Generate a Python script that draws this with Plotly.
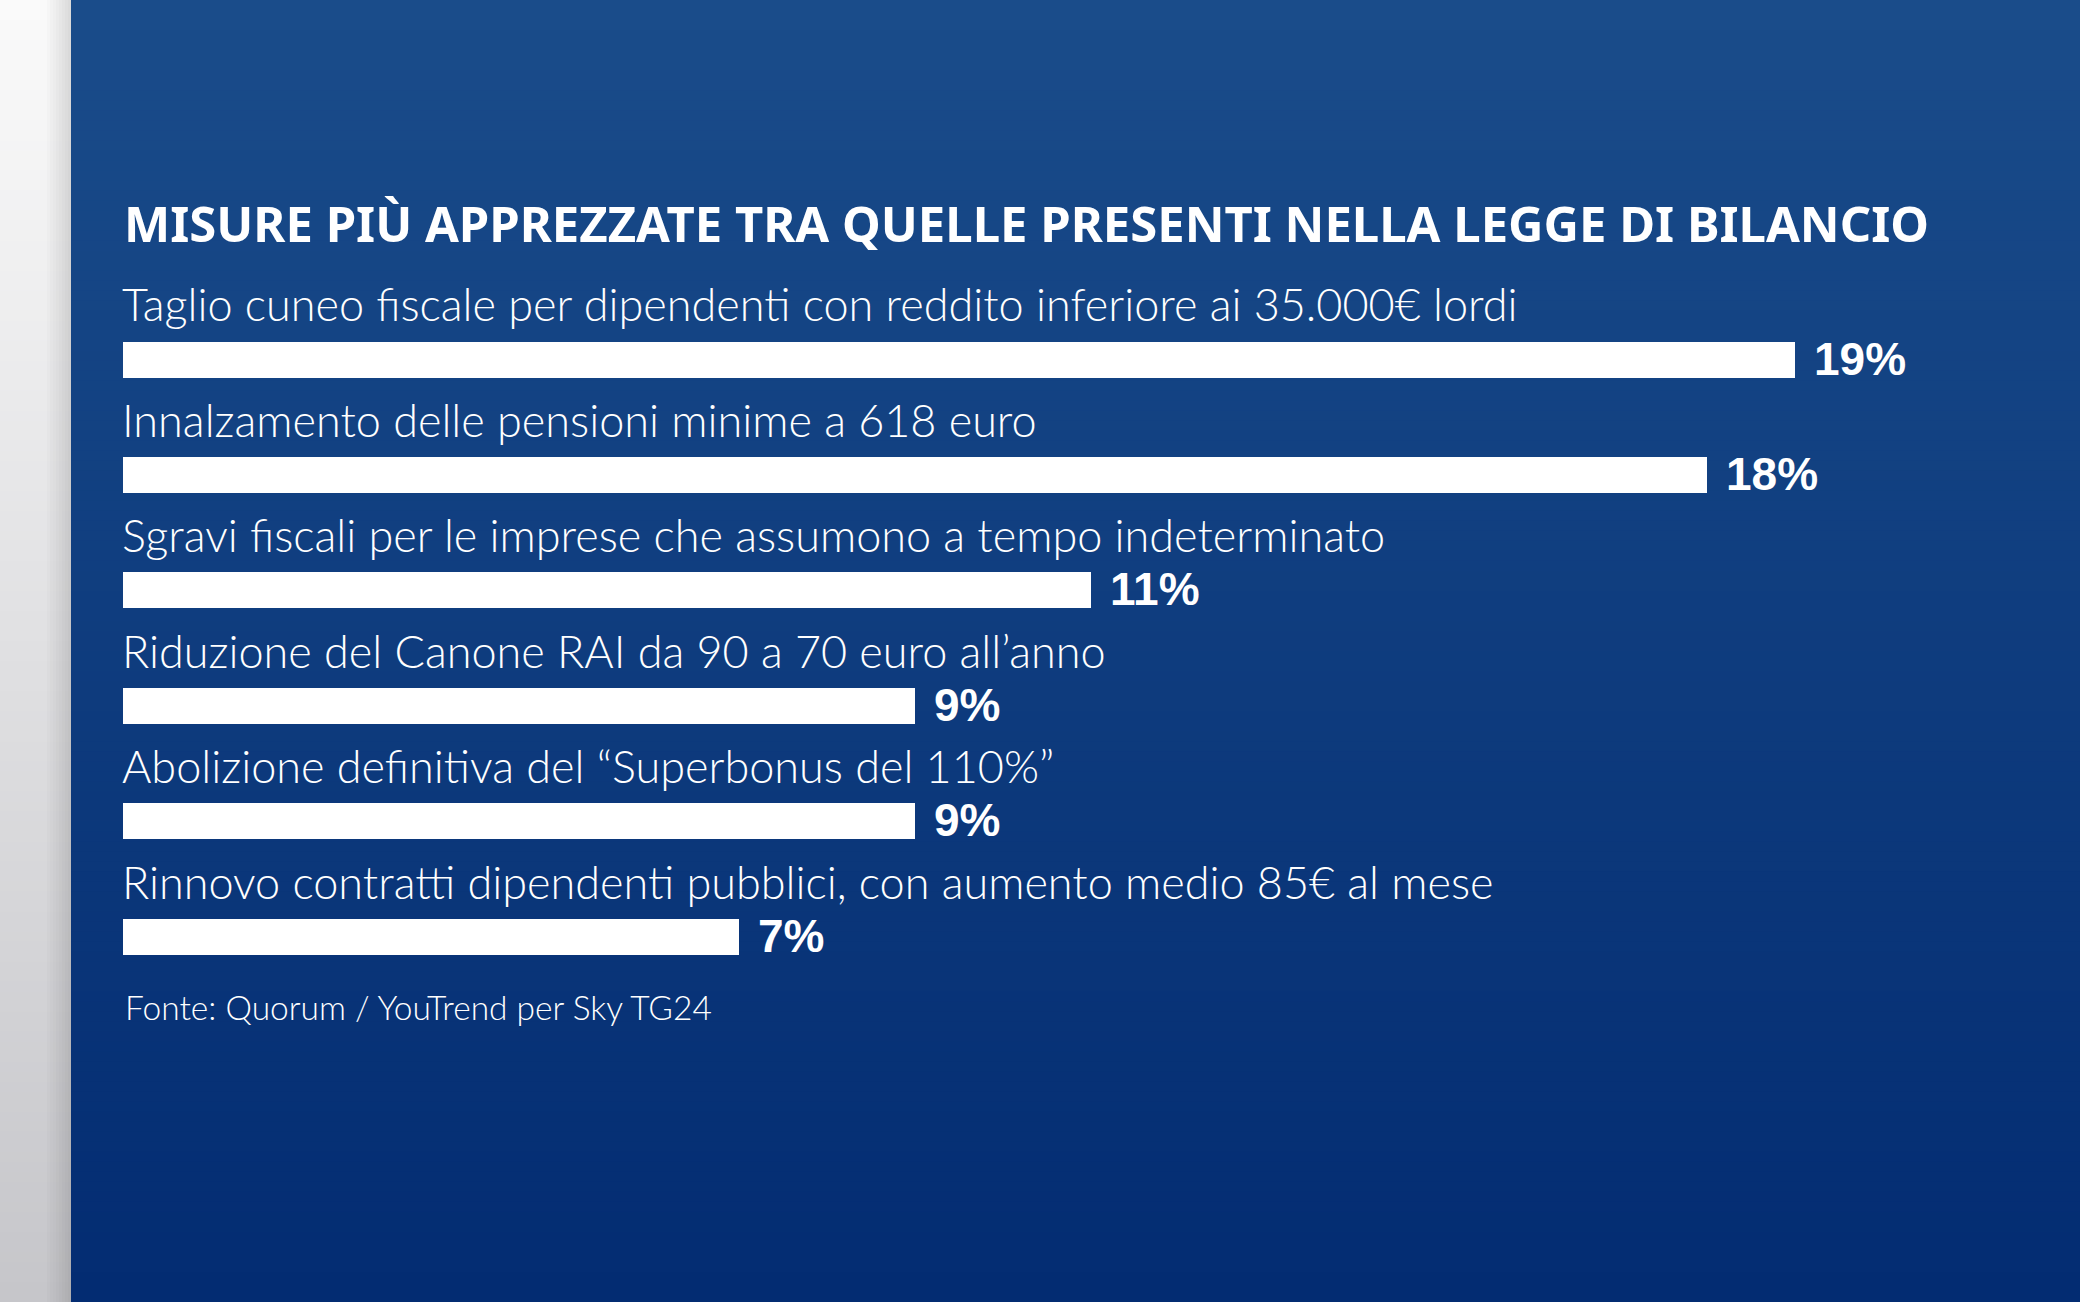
import plotly.graph_objects as go

W, H = 2080, 1302

title = "MISURE PIÙ APPREZZATE TRA QUELLE PRESENTI NELLA LEGGE DI BILANCIO"
categories = [
    "Taglio cuneo fiscale per dipendenti con reddito inferiore ai 35.000€ lordi",
    "Innalzamento delle pensioni minime a 618 euro",
    "Sgravi fiscali per le imprese che assumono a tempo indeterminato",
    "Riduzione del Canone RAI da 90 a 70 euro all’anno",
    "Abolizione definitiva del “Superbonus del 110%”",
    "Rinnovo contratti dipendenti pubblici, con aumento medio 85€ al mese",
]
values = [19, 18, 11, 9, 9, 7]
value_labels = ["19%", "18%", "11%", "9%", "9%", "7%"]
source = "Fonte: Quorum / YouTrend per Sky TG24"

TITLE_FONT = "Noto Sans, DejaVu Sans Condensed, sans-serif"
VALUE_FONT = "Liberation Sans, Arial, sans-serif"
LIGHT = "Lato, Roboto, Open Sans, sans-serif"

fig = go.Figure()
fig.add_trace(go.Bar(
    x=values, y=categories, orientation="h",
    marker=dict(color="white", line=dict(width=0)),
    width=0.312, hoverinfo="skip", showlegend=False,
))

# background: gradient built from thin bands
shapes = []
n = 130
top_b = (26, 76, 138)
bot_b = (3, 44, 114)
top_g = (250, 250, 250)
bot_g = (198, 198, 202)
for i in range(n):
    t = i / (n - 1)
    cb = tuple(round(a + (b - a) * t) for a, b in zip(top_b, bot_b))
    cg = tuple(round(a + (b - a) * t) for a, b in zip(top_g, bot_g))
    y1 = 1 - i / n
    y0 = 1 - (i + 1) / n - 0.001
    shapes.append(dict(type="rect", xref="paper", yref="paper", x0=71 / W, x1=1.0,
                       y0=y0, y1=y1, fillcolor="rgb(%d,%d,%d)" % cb, line=dict(width=0), layer="below"))
    shapes.append(dict(type="rect", xref="paper", yref="paper", x0=0, x1=71 / W,
                       y0=y0, y1=y1, fillcolor="rgb(%d,%d,%d)" % cg, line=dict(width=0), layer="below"))
# shadow next to the blue panel
for k in range(8):
    x0 = 47 + k * 3
    shapes.append(dict(type="rect", xref="paper", yref="paper", x0=x0 / W, x1=(x0 + 3) / W,
                       y0=0, y1=1, fillcolor="rgba(0,0,0,%.3f)" % (0.015 * (k + 1)),
                       line=dict(width=0), layer="below"))

annotations = []
annotations.append(dict(text=title, xref="paper", yref="paper", x=122 / W, y=1 - 258 / H,
                        xanchor="left", yanchor="bottom", showarrow=False,
                        font=dict(family=TITLE_FONT, size=49, color="white", weight="bold")))
for c, v, lab in zip(categories, values, value_labels):
    annotations.append(dict(text=c, x=0, y=c, xref="x", yref="y", xanchor="left", yanchor="bottom",
                            yshift=27, xshift=-2, borderpad=0, showarrow=False,
                            font=dict(family=LIGHT, size=45, color="white", weight=300)))
    annotations.append(dict(text=lab, x=v, y=c, xref="x", yref="y", xanchor="left",
                            yanchor="middle", xshift=18, yshift=1, borderpad=0, showarrow=False,
                            font=dict(family=VALUE_FONT, size=46, color="white", weight="bold")))
annotations.append(dict(text=source, xref="paper", yref="paper", x=123 / W, y=1 - 1029 / H,
                        xanchor="left", yanchor="bottom", showarrow=False,
                        font=dict(family=LIGHT, size=33.5, color="white", weight=300)))

px_per_unit = (1795 - 123) / 19
fig.update_layout(
    width=W, height=H, margin=dict(l=0, r=0, t=0, b=0),
    paper_bgcolor="rgb(14,60,126)", plot_bgcolor="rgba(0,0,0,0)",
    shapes=shapes, annotations=annotations, bargap=0, showlegend=False,
    xaxis=dict(domain=[123 / W, 1], range=[0, (W - 123) / px_per_unit], visible=False, fixedrange=True),
    yaxis=dict(domain=[0, 1], range=[(H - 359.5) / 115.4, -359.5 / 115.4], visible=False,
               type="category", fixedrange=True),
)

fig.write_html("out.html", config={"displayModeBar": False})
